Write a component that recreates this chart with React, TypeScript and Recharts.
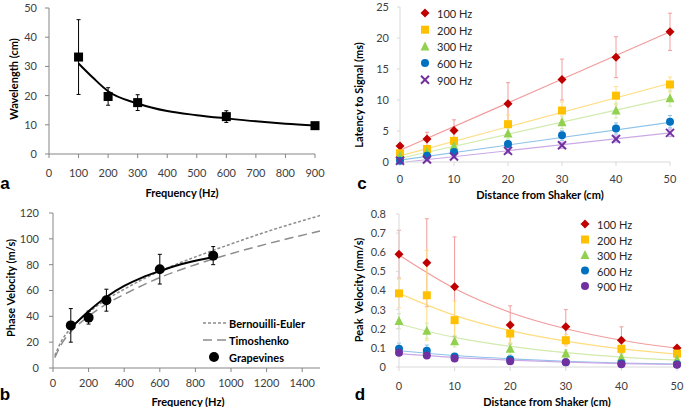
import React from 'react';
import { ComposedChart, Line, Scatter, XAxis, YAxis, ErrorBar } from 'recharts';

const FONT = 'Lato, "Open Sans", "Liberation Sans", sans-serif';
const TICK_FILL = '#404040';

// ---- panel a: wavelength vs frequency
const aFreq = [100, 200, 300, 600, 900];
const aWavelength = [33.2, 19.7, 17.6, 12.8, 9.7];
const aWavelengthErr = [12.8, 3.0, 2.7, 2.0, 0.5];
const aFitFreq = [100, 150, 200, 300, 400, 500, 600, 700, 800, 900];
const aFitWavelength = [31, 26, 21.5, 17.3, 14.7, 13.3, 12.2, 11.2, 10.4, 9.8];
const aTicksX = [0, 100, 200, 300, 400, 500, 600, 700, 800, 900];
const aTicksY = [0, 10, 20, 30, 40, 50];

// ---- panel b: phase velocity vs frequency
const bFreq = [100, 200, 300, 600, 900];
const bVelocity = [33, 39, 52.5, 76.5, 87];
const bVelocityErr = [13, 5, 8.5, 11.5, 7];
const bFitFreq = [100, 200, 300, 400, 500, 600, 700, 800, 900];
const bFitVelocity = [31, 44, 55, 63.5, 70, 75, 79.5, 83, 86];
const bModelFreq = [10, 50, 100, 200, 300, 400, 600, 800, 1000, 1200, 1500];
const bBernoulli = [9.6, 21.5, 30.5, 43, 53, 61, 75, 86, 96, 105.5, 118];
const bTimoshenko = [8, 19, 28, 40, 49.5, 57, 70, 80, 88.5, 96, 106];
const bTicksX = [0, 200, 400, 600, 800, 1000, 1200, 1400];
const bTicksY = [0, 20, 40, 60, 80, 100, 120];

// ---- panels c, d: shared
const distances = [0, 5, 10, 20, 30, 40, 50];
const freqLabels = ['100 Hz', '200 Hz', '300 Hz', '600 Hz', '900 Hz'];
const markerColors = ['#C00000', '#FFC000', '#92D050', '#0070C0', '#7030A0'];
const trendColors = ['#F29C9C', '#FFDD80', '#D2EAAE', '#8EC3EA', '#CBA8E6'];
const distTicks = [0, 10, 20, 30, 40, 50];

// ---- panel c: latency
const cLatency100 = [2.6, 3.7, 5.1, 9.4, 13.3, 16.9, 21.0];
const cLatency200 = [1.4, 2.1, 3.4, 6.1, 8.3, 10.7, 12.5];
const cLatency300 = [1.0, 1.6, 2.6, 4.6, 6.4, 8.3, 10.3];
const cLatency600 = [0.2, 1.0, 1.6, 2.9, 4.3, 5.4, 6.5];
const cLatency900 = [0.2, 0.4, 0.9, 1.8, 2.7, 3.7, 4.7];
const cErr100 = [0.3, 1.1, 1.7, 3.4, 3.3, 3.3, 3.0];
const cErr200 = [0.3, 0.5, 0.6, 1.5, 1.4, 1.5, 1.2];
const cErr300 = [0.3, 0.4, 0.5, 0.9, 1.0, 1.2, 1.3];
const cErr600 = [0.2, 0.3, 0.4, 0.6, 0.8, 0.9, 1.0];
const cErr900 = [0.2, 0.3, 0.3, 0.4, 0.5, 0.5, 0.6];
const cTrendX = [0, 50];
const cTrend100 = [1.9, 21.0];
const cTrend200 = [1.0, 12.7];
const cTrend300 = [0.6, 10.3];
const cTrend600 = [0.3, 6.4];
const cTrend900X = [1, 50];
const cTrend900 = [0, 4.7];
const cTicksY = [0, 5, 10, 15, 20, 25];

// ---- panel d: peak velocity
const dPeak100 = [0.59, 0.545, 0.42, 0.22, 0.21, 0.14, 0.10];
const dPeak200 = [0.385, 0.375, 0.245, 0.175, 0.14, 0.095, 0.07];
const dPeak300 = [0.24, 0.19, 0.135, 0.095, 0.07, 0.05, 0.04];
const dPeak600 = [0.095, 0.085, 0.055, 0.04, 0.025, 0.02, 0.015];
const dPeak900 = [0.075, 0.06, 0.045, 0.03, 0.025, 0.015, 0.012];
const dErr100 = [0.125, 0.23, 0.26, 0.1, 0.09, 0.07, 0.01];
const dErr200 = [0.075, 0.235, 0.1, 0.05, 0.03, 0.02, 0.01];
const dErr300 = [0.04, 0.04, 0.03, 0.03, 0.02, 0.02, 0.01];
const dErr600 = [0.03, 0.03, 0.01, 0.01, 0.01, 0.01, 0.005];
const dErr900 = [0.01, 0.01, 0.01, 0.01, 0.01, 0.005, 0.005];
const dTrendX = [0, 10, 20, 30, 40, 50];
const dTrend100 = [0.585, 0.41, 0.285, 0.2, 0.14, 0.098];
const dTrend200 = [0.385, 0.27, 0.19, 0.135, 0.095, 0.068];
const dTrend300 = [0.225, 0.155, 0.108, 0.075, 0.052, 0.036];
const dTrend600 = [0.085, 0.06, 0.043, 0.03, 0.021, 0.015];
const dTrend900 = [0.07, 0.05, 0.036, 0.026, 0.018, 0.013];
const dTicksY = [0, 0.1, 0.2, 0.3, 0.4, 0.5, 0.6, 0.7, 0.8];

const pts = (xs, ys, es?) => xs.map((x, i) => ({ x, y: ys[i], e: es ? es[i] : 0 }));

const cMarkers = ['diamond', 'square', 'triangle', 'circle', 'x'];
const dMarkers = ['diamond', 'square', 'triangle', 'circle', 'circle'];

const cSeries = [
  { pts: pts(distances, cLatency100, cErr100), trend: pts(cTrendX, cTrend100) },
  { pts: pts(distances, cLatency200, cErr200), trend: pts(cTrendX, cTrend200) },
  { pts: pts(distances, cLatency300, cErr300), trend: pts(cTrendX, cTrend300) },
  { pts: pts(distances, cLatency600, cErr600), trend: pts(cTrendX, cTrend600) },
  { pts: pts(distances, cLatency900, cErr900), trend: pts(cTrend900X, cTrend900) },
];
const dSeries = [
  { pts: pts(distances, dPeak100, dErr100), trend: pts(dTrendX, dTrend100) },
  { pts: pts(distances, dPeak200, dErr200), trend: pts(dTrendX, dTrend200) },
  { pts: pts(distances, dPeak300, dErr300), trend: pts(dTrendX, dTrend300) },
  { pts: pts(distances, dPeak600, dErr600), trend: pts(dTrendX, dTrend600) },
  { pts: pts(distances, dPeak900, dErr900), trend: pts(dTrendX, dTrend900) },
];

const Marker = ({ kind, cx, cy, color, s = 8 }) => {
  const h = s / 2;
  if (kind === 'square') return <rect x={cx - h} y={cy - h} width={s} height={s} fill={color} />;
  if (kind === 'circle') return <circle cx={cx} cy={cy} r={h} fill={color} />;
  if (kind === 'triangle')
    return <polygon points={`${cx},${cy - h - 1} ${cx + h + 0.5},${cy + h} ${cx - h - 0.5},${cy + h}`} fill={color} />;
  if (kind === 'diamond')
    return <polygon points={`${cx},${cy - h - 0.5} ${cx + h + 0.5},${cy} ${cx},${cy + h + 0.5} ${cx - h - 0.5},${cy}`} fill={color} />;
  return (
    <g stroke={color} strokeWidth={2}>
      <line x1={cx - h} y1={cy - h} x2={cx + h} y2={cy + h} />
      <line x1={cx - h} y1={cy + h} x2={cx + h} y2={cy - h} />
    </g>
  );
};

const Txt = ({ x, y, children, bold = false, size = 11, rotate = false, left = false, family = FONT, color = '#000' }) => (
  <div
    style={{
      position: 'absolute',
      left: x,
      top: y,
      transform: left ? 'translateY(-50%)' : `translate(-50%, -50%)${rotate ? ' rotate(-90deg)' : ''}`,
      fontFamily: family,
      fontSize: size,
      fontWeight: bold ? 700 : 400,
      color,
      whiteSpace: 'pre',
      lineHeight: 1,
    }}
  >
    {children}
  </div>
);

const tick = { fill: TICK_FILL, fontSize: 11, fontFamily: FONT };
const fmtD = (v) => (v === 0 ? '0' : v.toFixed(1));

const App = () => (
  <div style={{ position: 'absolute', left: 0, top: 0, width: 685, height: 407, background: '#fff' }}>
    {/* a */}
    <div style={{ position: 'absolute', left: 0, top: 0 }}>
      <ComposedChart width={330} height={200} margin={{ top: 8, right: 15, bottom: 0, left: 0 }}>
        <XAxis dataKey="x" type="number" domain={[0, 900]} ticks={aTicksX} height={46} tickSize={4} tickMargin={11} stroke="#868686" tick={tick} />
        <YAxis type="number" domain={[0, 50]} ticks={aTicksY} width={49} tickSize={4} tickMargin={8} stroke="#868686" tick={tick} />
        <Line data={pts(aFitFreq, aFitWavelength)} dataKey="y" type="monotone" stroke="#000" strokeWidth={2} dot={false} isAnimationActive={false} />
        <Scatter data={pts(aFreq, aWavelength, aWavelengthErr)} dataKey="y" isAnimationActive={false}
          shape={(p) => <Marker kind="square" cx={p.cx} cy={p.cy} color="#000" s={9} />}>
          <ErrorBar dataKey="e" direction="y" width={2} stroke="#000" strokeWidth={1} />
        </Scatter>
      </ComposedChart>
    </div>

    {/* b */}
    <div style={{ position: 'absolute', left: 0, top: 200 }}>
      <ComposedChart width={330} height={207} margin={{ top: 13, right: 10, bottom: 0, left: 0 }}>
        <XAxis dataKey="x" type="number" domain={[0, 1500]} ticks={bTicksX} height={39} tickSize={4} tickMargin={7} stroke="#868686" tick={tick} />
        <YAxis type="number" domain={[0, 120]} ticks={bTicksY} width={53} tickSize={4} tickMargin={10} stroke="#868686" tick={tick} />
        <Line data={pts(bModelFreq, bBernoulli)} dataKey="y" type="monotone" stroke="#8C8C8C" strokeWidth={1.5} strokeDasharray="3 2" dot={false} isAnimationActive={false} />
        <Line data={pts(bModelFreq, bTimoshenko)} dataKey="y" type="monotone" stroke="#8C8C8C" strokeWidth={1.5} strokeDasharray="9 5" dot={false} isAnimationActive={false} />
        <Line data={pts(bFitFreq, bFitVelocity)} dataKey="y" type="monotone" stroke="#000" strokeWidth={2} dot={false} isAnimationActive={false} />
        <Scatter data={pts(bFreq, bVelocity, bVelocityErr)} dataKey="y" isAnimationActive={false}
          shape={(p) => <Marker kind="circle" cx={p.cx} cy={p.cy} color="#000" s={10} />}>
          <ErrorBar dataKey="e" direction="y" width={2} stroke="#000" strokeWidth={1} />
        </Scatter>
      </ComposedChart>
    </div>

    {/* c */}
    <div style={{ position: 'absolute', left: 340, top: 0 }}>
      <ComposedChart width={345} height={200} margin={{ top: 7, right: 15, bottom: 0, left: 0 }}>
        <XAxis dataKey="x" type="number" domain={[0, 50]} ticks={distTicks} height={38} tickSize={4} tickMargin={9} stroke="#D9D9D9" tick={tick} />
        <YAxis type="number" domain={[0, 25]} ticks={cTicksY} width={60} tickSize={3} tickMargin={8} stroke="#D9D9D9" tick={tick} />
        {cSeries.map((s, i) => (
          <Line key={`ct${i}`} data={s.trend} dataKey="y" type="linear" stroke={trendColors[i]} strokeWidth={1.2} dot={false} isAnimationActive={false} />
        ))}
        {cSeries.map((s, i) => (
          <Scatter key={`cs${i}`} data={s.pts} dataKey="y" isAnimationActive={false}
            shape={(p) => <Marker kind={cMarkers[i]} cx={p.cx} cy={p.cy} color={markerColors[i]} s={8} />}>
            <ErrorBar dataKey="e" direction="y" width={2} stroke={trendColors[i]} strokeWidth={1} />
          </Scatter>
        ))}
      </ComposedChart>
    </div>

    {/* d */}
    <div style={{ position: 'absolute', left: 340, top: 200 }}>
      <ComposedChart width={345} height={207} margin={{ top: 14, right: 8, bottom: 0, left: 0 }}>
        <XAxis dataKey="x" type="number" domain={[0, 50]} ticks={distTicks} height={40} tickSize={4} tickMargin={11} stroke="#D9D9D9" tick={tick} />
        <YAxis type="number" domain={[0, 0.8]} ticks={dTicksY} tickFormatter={fmtD} width={59} tickSize={3} tickMargin={10} stroke="#D9D9D9" tick={tick} />
        {dSeries.map((s, i) => (
          <Line key={`dt${i}`} data={s.trend} dataKey="y" type="monotone" stroke={trendColors[i]} strokeWidth={1.2} dot={false} isAnimationActive={false} />
        ))}
        {dSeries.map((s, i) => (
          <Scatter key={`ds${i}`} data={s.pts} dataKey="y" isAnimationActive={false}
            shape={(p) => <Marker kind={dMarkers[i]} cx={p.cx} cy={p.cy} color={markerColors[i]} s={8} />}>
            <ErrorBar dataKey="e" direction="y" width={2} stroke={trendColors[i]} strokeWidth={1} />
          </Scatter>
        ))}
      </ComposedChart>
    </div>

    {/* axis titles */}
    <Txt x={13} y={79} bold rotate>Wavelength (cm)</Txt>
    <Txt x={182} y={192} bold>Frequency (Hz)</Txt>
    <Txt x={10} y={288} bold rotate>Phase Velocity (m/s)</Txt>
    <Txt x={188} y={401} bold>Frequency (Hz)</Txt>
    <Txt x={358} y={95} bold rotate>Latency to Signal (ms)</Txt>
    <Txt x={540} y={193.5} bold>Distance from Shaker (cm)</Txt>
    <Txt x={358} y={290} bold rotate>{'Peak  Velocity (mm/s)'}</Txt>
    <Txt x={547} y={401} bold>Distance from Shaker (cm)</Txt>

    {/* panel letters */}
    <Txt x={5} y={183} bold size={17} family='"Liberation Sans", Arial, sans-serif'>a</Txt>
    <Txt x={5} y={394} bold size={17} family='"Liberation Sans", Arial, sans-serif'>b</Txt>
    <Txt x={362} y={183} bold size={17} family='"Liberation Sans", Arial, sans-serif'>c</Txt>
    <Txt x={360} y={394} bold size={17} family='"Liberation Sans", Arial, sans-serif'>d</Txt>

    {/* legend b */}
    <svg style={{ position: 'absolute', left: 200, top: 315 }} width={30} height={50}>
      <line x1={3} y1={8} x2={26} y2={8} stroke="#8C8C8C" strokeWidth={1.5} strokeDasharray="3 2" />
      <line x1={3} y1={25} x2={26} y2={25} stroke="#8C8C8C" strokeWidth={1.5} strokeDasharray="9 5" />
      <Marker kind="circle" cx={14} cy={42} color="#000" s={10} />
    </svg>
    <Txt x={229} y={323} bold left>Bernouilli-Euler</Txt>
    <Txt x={229} y={340} bold left>Timoshenko</Txt>
    <Txt x={229} y={357} bold left>Grapevines</Txt>

    {/* legend c */}
    <svg style={{ position: 'absolute', left: 415, top: 3 }} width={20} height={87}>
      {freqLabels.map((_, i) => (
        <Marker key={i} kind={cMarkers[i]} cx={10} cy={10 + i * 16.7} color={markerColors[i]} s={8} />
      ))}
    </svg>
    {freqLabels.map((l, i) => (
      <Txt key={l} x={437} y={13 + i * 16.7} left color="#262626">{l}</Txt>
    ))}

    {/* legend d */}
    <svg style={{ position: 'absolute', left: 575, top: 214 }} width={20} height={80}>
      {freqLabels.map((_, i) => (
        <Marker key={i} kind={dMarkers[i]} cx={10} cy={10 + i * 15.5} color={markerColors[i]} s={8} />
      ))}
    </svg>
    {freqLabels.map((l, i) => (
      <Txt key={l} x={597} y={224 + i * 15.5} left color="#262626">{l}</Txt>
    ))}
  </div>
);

export default App;
